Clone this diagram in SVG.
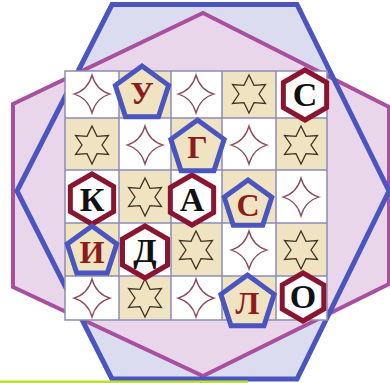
<svg xmlns="http://www.w3.org/2000/svg" width="390" height="383" viewBox="0 0 390 383">
<style>
.bh{fill:#dcdcf0;stroke:none}
.ph{fill:#ead6ea;stroke:none}
.w{fill:#ffffff}
.b{fill:#efe3c2}
.gl{stroke:#8c8cb8;stroke-width:1.5;fill:none}
.s4{fill:none;stroke:#8a4a5c;stroke-width:1.3}
.s6{fill:none;stroke:#3c3424;stroke-width:1.3}
.hx{fill:#ffffff;stroke:#8a1530;stroke-width:5;stroke-linejoin:miter}
.pg{fill:#efe3c2;stroke:#4a55c0;stroke-width:5;stroke-linejoin:miter}
.th{font-family:"Liberation Serif","Times New Roman",serif;font-weight:bold;font-size:34px;fill:#111111;text-anchor:middle}
.tp{font-family:"Liberation Serif","Times New Roman",serif;font-weight:bold;font-size:32px;fill:#8b1c1c;text-anchor:middle}
</style>
<defs>
<path id="star4" d="M0,-19 Q4,-4 18,0 Q4,4 0,19 Q-4,4 -18,0 Q-4,-4 0,-19Z"/>
<polygon id="star6" points="0,-19 5,-8.66 16.45,-9.5 10,0 16.45,9.5 5,8.66 0,19 -5,8.66 -16.45,9.5 -10,0 -16.45,-9.5 -5,-8.66"/>
</defs>
<rect width="390" height="383" fill="#ffffff"/>
<g id="hexagons">
<polygon class="bh" points="112,4.5 297,4.5 389,191 297,379 112,379 17,191"/>
<polygon class="ph" points="203,13 389,107 389,284 203,376 13,287 13,104"/>
<polygon points="203,13 389,107 389,284 203,376 13,287 13,104" fill="none" stroke="#a8509f" stroke-width="4"/>
<polygon points="112,4.5 297,4.5 389,191 297,379 112,379 17,191" fill="none" stroke="#4a55c0" stroke-width="5"/>
</g>
<rect x="0" y="380.5" width="248" height="2.5" fill="#b8e22e"/>
<g id="grid">
<rect class="w" x="65" y="71" width="54" height="47"/>
<rect class="b" x="119" y="71" width="52" height="47"/>
<rect class="w" x="171" y="71" width="51" height="47"/>
<rect class="b" x="222" y="71" width="54" height="47"/>
<rect class="w" x="276" y="71" width="51" height="47"/>
<rect class="b" x="65" y="118" width="54" height="52"/>
<rect class="w" x="119" y="118" width="52" height="52"/>
<rect class="b" x="171" y="118" width="51" height="52"/>
<rect class="w" x="222" y="118" width="54" height="52"/>
<rect class="b" x="276" y="118" width="51" height="52"/>
<rect class="w" x="65" y="170" width="54" height="53"/>
<rect class="b" x="119" y="170" width="52" height="53"/>
<rect class="w" x="171" y="170" width="51" height="53"/>
<rect class="b" x="222" y="170" width="54" height="53"/>
<rect class="w" x="276" y="170" width="51" height="53"/>
<rect class="b" x="65" y="223" width="54" height="53"/>
<rect class="w" x="119" y="223" width="52" height="53"/>
<rect class="b" x="171" y="223" width="51" height="53"/>
<rect class="w" x="222" y="223" width="54" height="53"/>
<rect class="b" x="276" y="223" width="51" height="53"/>
<rect class="w" x="65" y="276" width="54" height="44"/>
<rect class="b" x="119" y="276" width="52" height="44"/>
<rect class="w" x="171" y="276" width="51" height="44"/>
<rect class="b" x="222" y="276" width="54" height="44"/>
<rect class="w" x="276" y="276" width="51" height="44"/>
<path class="gl" d="M65,71H327V320H65Z M119,71V320 M171,71V320 M222,71V320 M276,71V320 M65,118H327 M65,170H327 M65,223H327 M65,276H327"/>
</g>
<g id="stars">
<use href="#star4" class="s4" x="92" y="94"/>
<use href="#star4" class="s4" x="196" y="94"/>
<use href="#star6" class="s6" x="249" y="94"/>
<use href="#star6" class="s6" x="92" y="145"/>
<use href="#star4" class="s4" x="145" y="145"/>
<use href="#star4" class="s4" x="249" y="145"/>
<use href="#star6" class="s6" x="301" y="145"/>
<use href="#star6" class="s6" x="145" y="197"/>
<use href="#star4" class="s4" x="301" y="197"/>
<use href="#star6" class="s6" x="196" y="250"/>
<use href="#star4" class="s4" x="249" y="250"/>
<use href="#star6" class="s6" x="301" y="250"/>
<use href="#star4" class="s4" x="92" y="298"/>
<use href="#star6" class="s6" x="145" y="298"/>
<use href="#star4" class="s4" x="196" y="298"/>
</g>
<g id="node-S1">
<polygon class="hx" points="305,70 326.65,82.5 326.65,107.5 305,120 283.35,107.5 283.35,82.5"/>
<text class="th" x="305" y="106">С</text>
</g>
<g id="node-K">
<polygon class="hx" points="92,174 113.65,186.5 113.65,211.5 92,224 70.35,211.5 70.35,186.5"/>
<text class="th" x="92" y="211">К</text>
</g>
<g id="node-A">
<polygon class="hx" points="192,175 213.65,187.5 213.65,212.5 192,225 170.35,212.5 170.35,187.5"/>
<text class="th" x="192" y="211">А</text>
</g>
<g id="node-D">
<polygon class="hx" points="145,226 167.52,239 167.52,265 145,278 122.48,265 122.48,239"/>
<text class="th" x="145" y="262">Д</text>
</g>
<g id="node-O">
<polygon class="hx" points="303,273 323.78,285 323.78,309 303,321 282.22,309 282.22,285"/>
<text class="th" x="303" y="308">О</text>
</g>
<g id="node-U">
<polygon class="pg" points="142,66 168.63,85.35 158.46,116.65 125.54,116.65 115.37,85.35"/>
<text class="tp" x="142" y="104">У</text>
</g>
<g id="node-G">
<polygon class="pg" points="197.5,120 224.13,139.35 213.96,170.65 181.04,170.65 170.87,139.35"/>
<text class="tp" x="197.5" y="158">Г</text>
</g>
<g id="node-S2">
<polygon class="pg" points="248,180 271.78,197.27 262.7,225.23 233.3,225.23 224.22,197.27"/>
<text class="tp" x="248" y="216">С</text>
</g>
<g id="node-I">
<polygon class="pg" points="92,226 116.73,243.97 107.29,273.03 76.71,273.03 67.27,243.97"/>
<text class="tp" x="92" y="263">И</text>
</g>
<g id="node-L">
<polygon class="pg" points="247.5,275 274.13,294.35 263.96,325.65 231.04,325.65 220.87,294.35"/>
<text class="tp" x="247.5" y="314">Л</text>
</g>
<g id="connectors"/>
</svg>
